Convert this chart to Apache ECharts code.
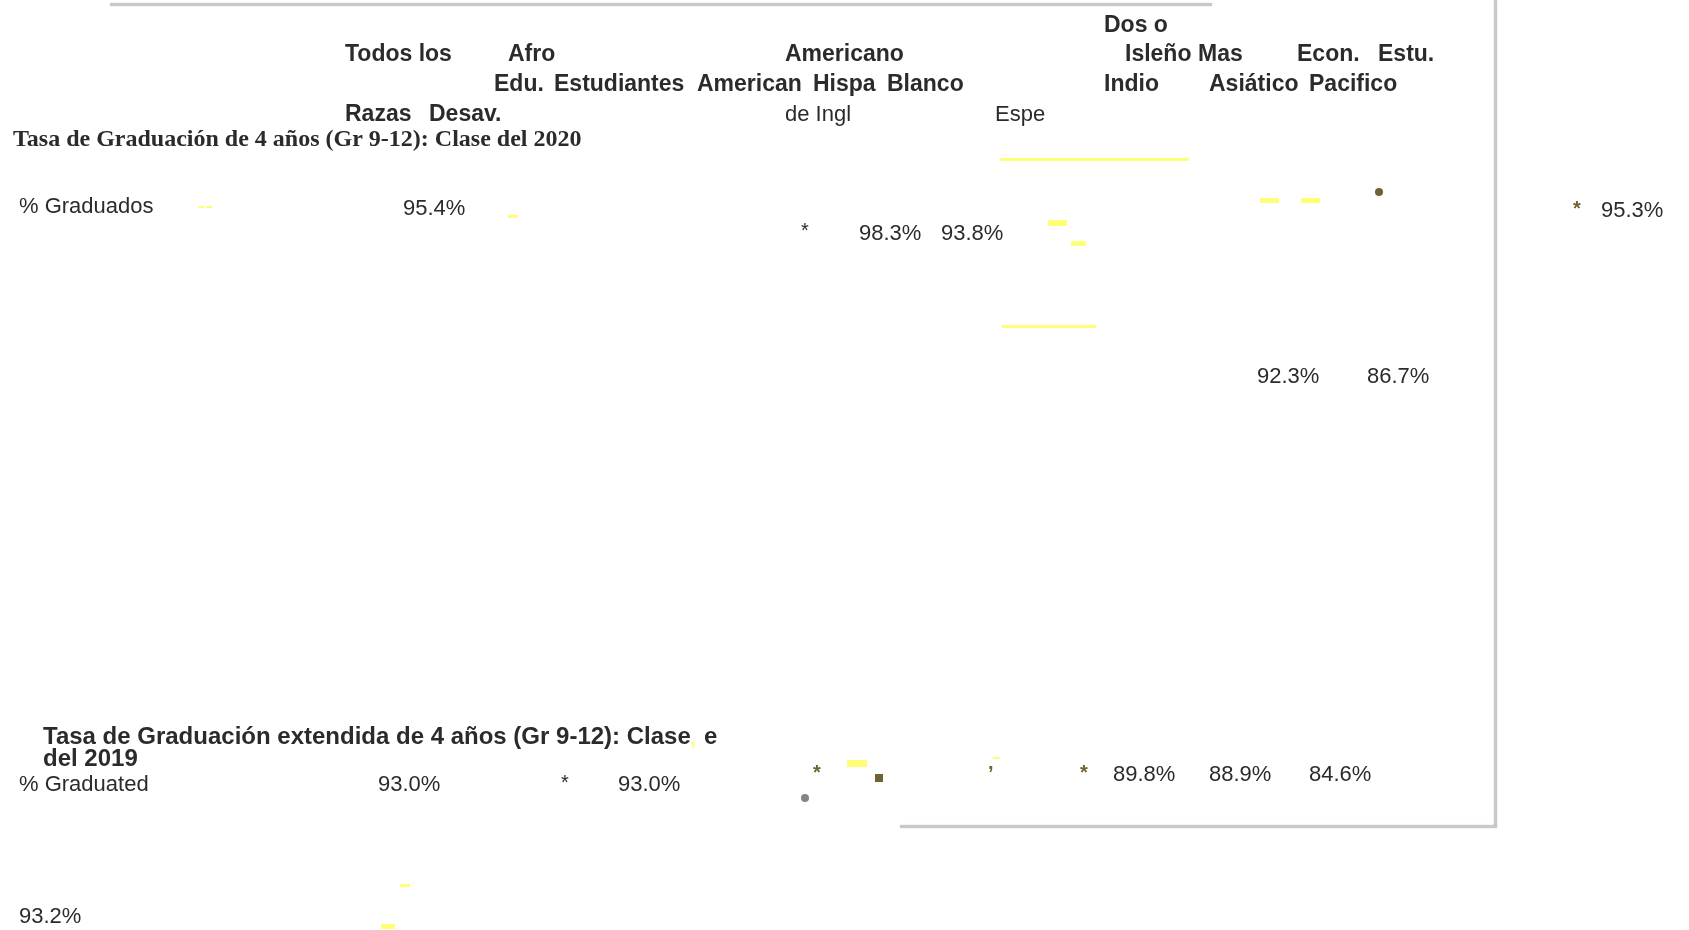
<!DOCTYPE html>
<html>
<head>
<meta charset="utf-8">
<script src="https://cdn.jsdelivr.net/npm/echarts@6/dist/echarts.min.js"></script>
<style>
html, body { margin: 0; padding: 0; background: #fff; }
#main { width: 1689px; height: 930px; }
</style>
</head>
<body>
<div id="main"></div>
<script>
// textos de cabecera (columnas)
var headerBold = ['Dos o', 'Todos los', 'Afro', 'Americano', 'Isleño', 'Mas', 'Econ.', 'Estu.',
    'Edu.', 'Estudiantes', 'American', 'Hispa', 'Blanco', 'Indio', 'Asiático', 'Pacifico',
    'Razas', 'Desav.'];
var headerRegular = ['de Ingl', 'Espe'];
var titles = ['Tasa de Graduación de 4 años (Gr 9-12): Clase del 2020'];
var titles2 = ['Tasa de Graduación extendida de 4 años (Gr 9-12): Clase', 'e', 'del 2019'];
var rowLabels = ['% Graduados', '% Graduated'];
// valores
var grad2020 = ['95.4%', '98.3%', '93.8%', '92.3%', '86.7%', '95.3%'];
var grad2019 = ['93.0%', '93.0%', '89.8%', '88.9%', '84.6%', '93.2%'];
var darkMarks = ['*', '*'];
var oliveMarks = ['*', '*', ',', '*'];
var yellowMarks = [','];

// posiciones (x izquierda, y centro)
var headerBoldPos = [[1104, 26], [345, 55], [508, 55], [785, 55], [1125, 55], [1198, 55], [1297, 55], [1378, 55],
    [494, 85], [554, 85], [697, 85], [813, 85], [887, 85], [1104, 85], [1209, 85], [1309, 85],
    [345, 115], [429, 115]];
var headerRegularPos = [[785, 115], [995, 115]];
var titlesPos = [[13, 140]];
var titles2Pos = [[43, 737], [704, 737], [43, 759]];
var rowLabelsPos = [[19, 207], [19, 785]];
var grad2020Pos = [[403, 209], [859, 234], [941, 234], [1257, 377], [1367, 377], [1601, 211]];
var grad2019Pos = [[378, 785], [618, 785], [1113, 775], [1209, 775], [1309, 775], [19, 917]];
var darkMarksPos = [[801, 231], [561, 783]];
var oliveMarksPos = [[1573, 209], [813, 773], [988, 763], [1080, 773]];
var yellowMarksPos = [[690, 739]];

// restos de la pagina: [x1, y1, x2, y2]
var yellowBoxes = [[198, 206, 204, 208], [206, 206, 212, 208], [508, 215, 518, 218],
    [1000, 158, 1189, 161], [1048, 220, 1067, 226], [1071, 241, 1086, 246],
    [1002, 325, 1096, 328], [1260, 198, 1279, 203], [1301, 198, 1320, 203],
    [847, 760, 867, 767], [993, 757, 1000, 759], [400, 884, 410, 887], [381, 924, 395, 929]];
var oliveBoxes = [[875, 774, 883, 782]];
var greyRules = [[110, 3, 1212, 6], [1494, 0, 1497, 827], [900, 825, 1497, 828]];
var dots = [[1379, 192, '#6e6431'], [805, 798, '#858585']];

function textItems(texts, pos) {
    return texts.map(function (t, i) {
        return { value: [pos[i][0], pos[i][1]], name: t };
    });
}

function textSeries(texts, pos, style) {
    return {
        type: 'scatter',
        symbolSize: 0,
        silent: true,
        itemStyle: { opacity: 1 },
        data: textItems(texts, pos),
        label: Object.assign({
            show: true,
            position: 'right',
            distance: 0,
            align: 'left',
            verticalAlign: 'middle',
            formatter: function (p) { return p.name; },
            color: '#2b2b2b',
            fontFamily: 'Liberation Sans, Arial, sans-serif',
            fontSize: 22
        }, style)
    };
}

function boxSeries(boxes, color, extra) {
    return {
        type: 'custom',
        silent: true,
        data: boxes,
        renderItem: function (params, api) {
            var p1 = api.coord([api.value(0), api.value(1)]);
            var p2 = api.coord([api.value(2), api.value(3)]);
            return {
                type: 'rect',
                shape: { x: p1[0], y: p1[1], width: p2[0] - p1[0], height: p2[1] - p1[1] },
                style: Object.assign({ fill: color }, extra || {})
            };
        }
    };
}

var chart = echarts.init(document.getElementById('main'));
var option = {
    backgroundColor: '#ffffff',
    animation: false,
    grid: { left: 0, right: 0, top: 0, bottom: 0 },
    xAxis: { type: 'value', min: 0, max: 1689, show: false },
    yAxis: { type: 'value', min: 0, max: 930, inverse: true, show: false },
    series: [
        boxSeries(greyRules, '#c9c9c9', { shadowColor: 'rgba(0,0,0,0.15)', shadowBlur: 2 }),
        boxSeries(yellowBoxes, '#ffff77'),
        boxSeries(oliveBoxes, '#6e6431'),
        {
            type: 'custom',
            silent: true,
            data: dots,
            renderItem: function (params, api) {
                var c = api.coord([api.value(0), api.value(1)]);
                return {
                    type: 'circle',
                    shape: { cx: c[0], cy: c[1], r: 4 },
                    style: { fill: dots[params.dataIndex][2] }
                };
            }
        },
        textSeries(headerBold, headerBoldPos, { fontWeight: 'bold', fontSize: 23 }),
        textSeries(headerRegular, headerRegularPos, { fontSize: 22 }),
        textSeries(titles, titlesPos, { fontWeight: 'bold', fontSize: 24, fontFamily: 'Liberation Serif, Times New Roman, serif' }),
        textSeries(titles2, titles2Pos, { fontWeight: 'bold', fontSize: 24 }),
        textSeries(rowLabels, rowLabelsPos, { fontSize: 22 }),
        textSeries(grad2020, grad2020Pos, { fontSize: 22 }),
        textSeries(grad2019, grad2019Pos, { fontSize: 22 }),
        textSeries(darkMarks, darkMarksPos, { fontSize: 20, color: '#2b2b2b' }),
        textSeries(oliveMarks, oliveMarksPos, { fontSize: 20, fontWeight: 'bold', color: '#6e6431' }),
        textSeries(yellowMarks, yellowMarksPos, { fontSize: 22, fontWeight: 'bold', color: '#ffff77' })
    ]
};
chart.setOption(option);
</script>
</body>
</html>
